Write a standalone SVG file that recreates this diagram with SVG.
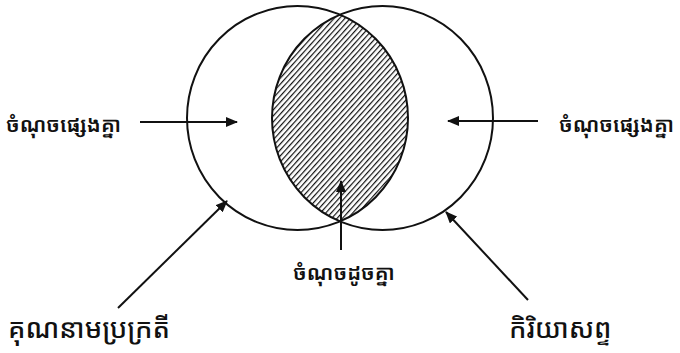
<svg xmlns="http://www.w3.org/2000/svg" width="680" height="353" viewBox="0 0 680 353">
<style>
.circ{fill:none;stroke:#111;stroke-width:2}
.conn{stroke:#111;stroke-width:2;fill:none;marker-end:url(#ah)}
.lbl{font-family:"Noto Sans Khmer","Khmer OS","Noto Serif Khmer","Noto Sans",sans-serif;fill:#111}
.s{font-size:21px;font-weight:600}
.b{font-size:27px;font-weight:500}
</style>
<defs>
<marker id="ah" viewBox="0 0 12 10" refX="11" refY="5" markerWidth="12" markerHeight="10" markerUnits="userSpaceOnUse" orient="auto">
<path d="M0,0 L12,5 L0,10 Z" fill="#111"/>
</marker>
<pattern id="hatch" width="4" height="4" patternUnits="userSpaceOnUse" patternTransform="rotate(-48)">
<rect width="4" height="4" fill="#fff"/>
<line x1="0" y1="0" x2="4" y2="0" stroke="#111" stroke-width="2.4"/>
</pattern>
<clipPath id="clipL"><ellipse cx="297.5" cy="118" rx="110.5" ry="112"/></clipPath>
</defs>
<rect width="680" height="353" fill="#fff"/>
<g id="intersection">
<ellipse cx="382.5" cy="118" rx="110.5" ry="112" fill="url(#hatch)" clip-path="url(#clipL)"/>
</g>
<g id="left-circle"><ellipse class="circ" cx="297.5" cy="118" rx="110.5" ry="112"/></g>
<g id="right-circle"><ellipse class="circ" cx="382.5" cy="118" rx="110.5" ry="112"/></g>
<g id="connectors">
<line class="conn" x1="140" y1="122" x2="237" y2="122"/>
<line class="conn" x1="538" y1="121" x2="448" y2="121"/>
<line class="conn" x1="341" y1="250" x2="341" y2="181"/>
<line class="conn" x1="118" y1="308" x2="227" y2="201"/>
<line class="conn" x1="528" y1="300" x2="446" y2="212"/>
</g>
<g id="label-left"><text class="lbl s" x="6" y="132">ចំណុចផ្សេងគ្នា</text></g>
<g id="label-right"><text class="lbl s" x="559" y="132">ចំណុចផ្សេងគ្នា</text></g>
<g id="label-center"><text class="lbl s" x="344" y="280" text-anchor="middle">ចំណុចដូចគ្នា</text></g>
<g id="label-adj"><text class="lbl b" x="8" y="338">គុណនាមប្រក្រតី</text></g>
<g id="label-verb"><text class="lbl b" x="509" y="338">កិរិយាសព្ទ</text></g>
</svg>
